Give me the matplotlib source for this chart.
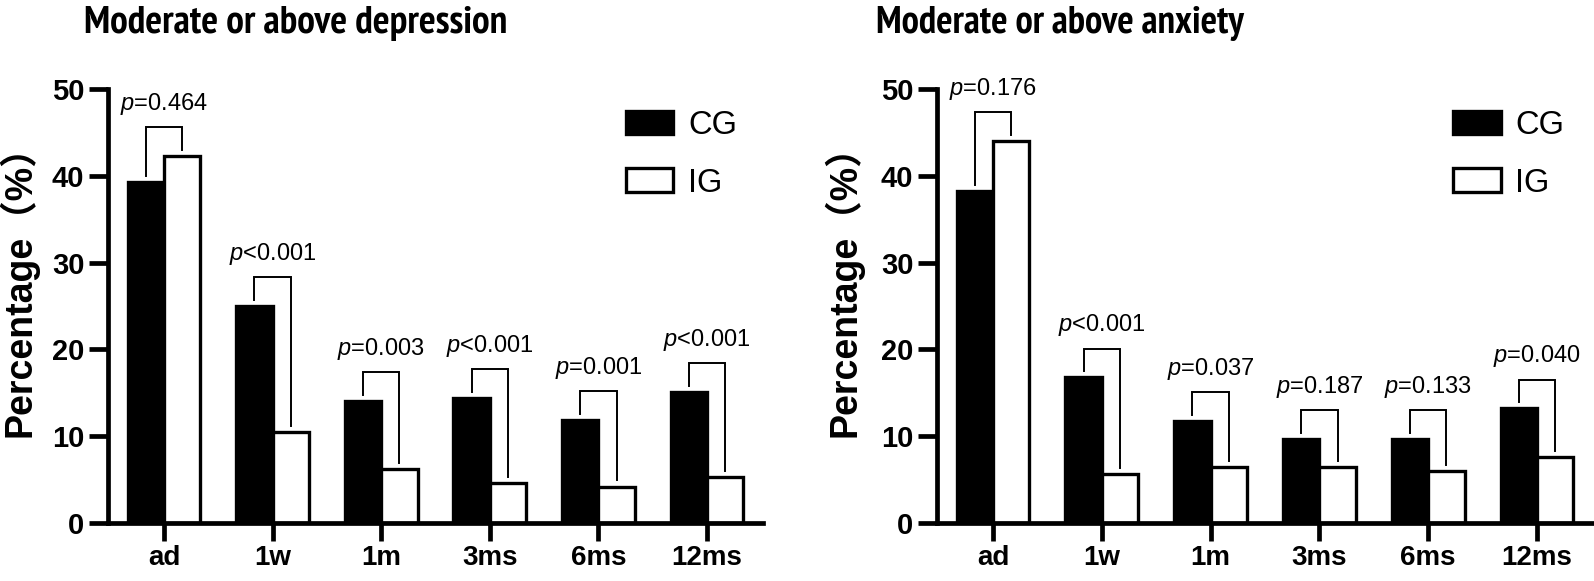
import numpy as np
import matplotlib
matplotlib.use("Agg")
import matplotlib.pyplot as plt
import matplotlib.patheffects as pe
from matplotlib import font_manager

plt.rcParams['font.family'] = ['Liberation Sans', 'Noto Sans CJK SC', 'DejaVu Sans']
plt.rcParams['mathtext.fontset'] = 'custom'
plt.rcParams['mathtext.rm'] = 'Liberation Sans'
plt.rcParams['mathtext.it'] = 'Liberation Sans:italic'

# the titles are set in a narrow bold face; use one that has a real bold if possible
fonts = font_manager.fontManager.ttflist
title_font, title_bold = 'Liberation Sans', True
narrow = ['Liberation Sans Narrow', 'Arial Narrow', 'PT Sans Narrow', 'Archivo Narrow',
          'Roboto Condensed', 'Open Sans Condensed']
for name in narrow:
    if any(f.name == name and int(f.weight) >= 600 for f in fonts):
        title_font, title_bold = name, True
        break
else:
    for name in narrow:
        if any(f.name == name for f in fonts):
            title_font, title_bold = name, False
            break

categories = ['ad', '1w', '1m', '3ms', '6ms', '12ms']

# moderate or above depression (%)
dep_cg = [39.3, 25.0, 14.1, 14.4, 11.9, 15.1]
dep_ig = [42.3, 10.5, 6.2, 4.6, 4.2, 5.3]
dep_p = ['=0.464', '<0.001', '=0.003', '<0.001', '=0.001', '<0.001']

# moderate or above anxiety (%)
anx_cg = [38.2, 16.8, 11.8, 9.7, 9.7, 13.2]
anx_ig = [44.0, 5.6, 6.5, 6.5, 6.0, 7.6]
anx_p = ['=0.176', '<0.001', '=0.037', '=0.187', '=0.133', '=0.040']

W, H = 1594, 581
fig = plt.figure(figsize=(W / 100, H / 100), dpi=100)

bar_w = 0.335
lw_axis = 3.4
lw_bar = 2.4
titles = []


def draw_panel(ax, cg, ig, pvals, title, title_x0, title_x1, label_x, leg_x):
    x = np.arange(len(categories))
    ax.bar(x - bar_w / 2, cg, bar_w, color='black', edgecolor='black', linewidth=lw_bar, label='CG')
    ax.bar(x + bar_w / 2, ig, bar_w, color='white', edgecolor='black', linewidth=lw_bar, label='IG')

    # significance brackets
    for i in range(len(categories)):
        top = max(cg[i], ig[i]) + 3.3
        xl = x[i] - bar_w / 2
        xr = x[i] + bar_w / 2
        ax.plot([xl, xl, xr, xr], [cg[i] + 0.7, top, top, ig[i] + 0.7],
                color='black', lw=1.4, clip_on=False, solid_joinstyle='miter')
        ax.text(x[i], top + 2.0, '$p$' + pvals[i], ha='center', va='baseline',
                fontsize=17, clip_on=False)

    ax.set_xlim(-0.515, len(categories) - 1 + 0.515)
    ax.set_ylim(0, 50)
    ax.set_yticks([0, 10, 20, 30, 40, 50])
    ax.set_xticks(x)
    ax.set_xticklabels(categories)
    for s in ['top', 'right']:
        ax.spines[s].set_visible(False)
    for s in ['left', 'bottom']:
        ax.spines[s].set_linewidth(lw_axis)
    ax.tick_params(axis='y', length=14, width=lw_axis, pad=3, labelsize=21)
    ax.tick_params(axis='x', length=13, width=lw_axis, pad=3, labelsize=20)
    for lab in ax.get_xticklabels() + ax.get_yticklabels():
        lab.set_fontweight('bold')

    leg = ax.legend(loc='upper left', bbox_to_anchor=(leg_x, 0.952), frameon=False,
                    fontsize=23.5, handlelength=1.45, handleheight=0.74,
                    handletextpad=0.45, labelspacing=0.82, borderpad=0, borderaxespad=0)
    for h in leg.legend_handles:
        h.set_linewidth(lw_bar)

    t = fig.text((title_x0 + title_x1) / 2 / W, 1 - 33 / H, title, ha='center', va='baseline',
                 fontsize=25.5, fontweight='bold', family=[title_font, 'Liberation Sans'])
    if not title_bold:
        t.set_path_effects([pe.withStroke(linewidth=1.6, foreground='black')])
    titles.append((t, title_x1 - title_x0))
    fig.text(label_x, 1 - 282 / H, 'Percentage（%）', rotation=90,
             ha='center', va='center', fontsize=27, fontweight='bold')


bottom = 1 - 523 / H
height = (523 - 89) / H
ax1 = fig.add_axes([108 / W, bottom, (763 - 108) / W, height])
ax2 = fig.add_axes([937 / W, bottom, (1593 - 937) / W, height])

draw_panel(ax1, dep_cg, dep_ig, dep_p, 'Moderate or above depression',
           83, 508, 18 / W, 0.791)
draw_panel(ax2, anx_cg, anx_ig, anx_p, 'Moderate or above anxiety',
           874, 1245, 843 / W, 0.787)

# fit each title to the width it takes in the reference
fig.canvas.draw()
for t, target in titles:
    w = t.get_window_extent().width
    t.set_fontsize(t.get_fontsize() * (target - 3) / w)

fig.savefig('out.png', dpi=100)
